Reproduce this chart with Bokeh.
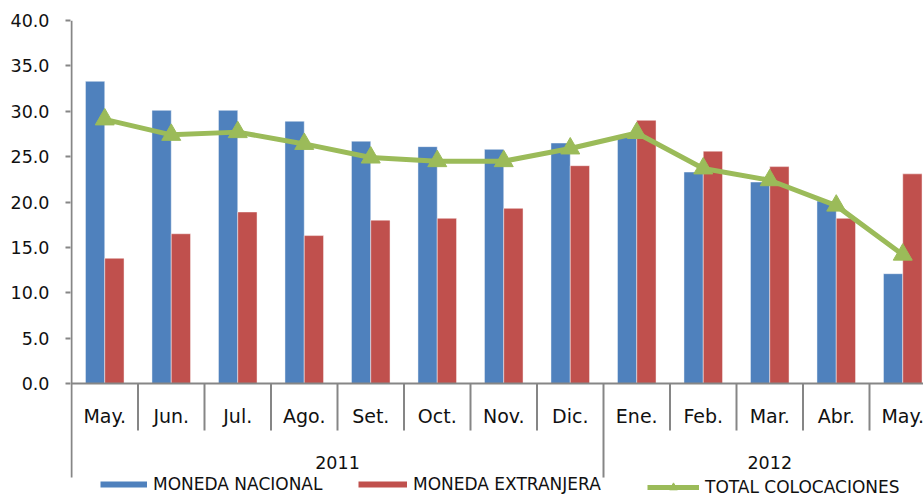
import numpy as np
from bokeh.plotting import figure
from bokeh.models import Range1d, FixedTicker, NumeralTickFormatter, ColumnDataSource, Legend, LegendItem
from bokeh.core.properties import value
from bokeh.embed import file_html
from bokeh.resources import INLINE

# ---- data ----
months = ["May.", "Jun.", "Jul.", "Ago.", "Set.", "Oct.", "Nov.", "Dic.",
          "Ene.", "Feb.", "Mar.", "Abr.", "May."]
years = ["2011", "2012"]
year_counts = [8, 5]
nacional = [33.3, 30.1, 30.1, 28.9, 26.7, 26.1, 25.8, 26.5, 27.2, 23.3, 22.2, 20.1, 12.1]
extranjera = [13.8, 16.5, 18.9, 16.3, 18.0, 18.2, 19.3, 24.0, 29.0, 25.6, 23.9, 18.2, 23.1]
total = [29.1, 27.4, 27.7, 26.4, 24.9, 24.5, 24.5, 25.9, 27.6, 23.7, 22.4, 19.6, 14.2]
y_ticks = [0, 5, 10, 15, 20, 25, 30, 35, 40]
series_names = ["MONEDA NACIONAL", "MONEDA EXTRANJERA", "TOTAL COLOCACIONES"]

# ---- styling / layout ----
BLUE = "#4F81BD"
RED = "#C0504D"
GREEN = "#9BBB59"
AXIS = "#868686"
FONT = "DejaVu Sans"
TXT = "#111111"

n = len(months)
xc = np.arange(n) + 0.5
bar_w = 0.29
off = 0.145
month_sep_depth = -5.18
year_sep_depth = -10.36
month_label_y = -3.53
year_label_y = -8.67

src = ColumnDataSource(dict(
    x_nac=xc - off, x_ext=xc + off, x=xc,
    nac=nacional, ext=extranjera, tot=total, month=months))

p = figure(width=923, height=497,
           x_range=Range1d(-0.015, 12.812), y_range=Range1d(-12.56, max(y_ticks)),
           output_backend="svg", toolbar_location=None, x_axis_location=None,
           min_border_left=70, min_border_right=0, min_border_top=20, min_border_bottom=0)
p.xgrid.visible = False
p.ygrid.visible = False
p.outline_line_color = None
p.background_fill_color = "white"
p.border_fill_color = "white"

ya = p.yaxis[0]
ya.ticker = FixedTicker(ticks=y_ticks)
ya.formatter = NumeralTickFormatter(format="0.0")
ya.axis_line_color = None
ya.major_tick_line_color = AXIS
ya.major_tick_line_width = 2
ya.major_tick_out = 5
ya.major_tick_in = 0
ya.minor_tick_line_color = None
ya.major_label_standoff = 16
ya.major_label_text_font = FONT
ya.major_label_text_font_size = "17.5px"
ya.major_label_text_color = TXT

# bars
r_nac = p.vbar(x="x_nac", top="nac", bottom=0, width=bar_w, source=src,
               fill_color=BLUE, line_color="white", line_alpha=0.45, line_width=1)
r_ext = p.vbar(x="x_ext", top="ext", bottom=0, width=bar_w, source=src,
               fill_color=RED, line_color="white", line_alpha=0.45, line_width=1)

# total line
r_line = p.line(x="x", y="tot", source=src, line_color=GREEN, line_width=5)
r_mark = p.scatter(x="x", y="tot", source=src, marker="triangle", size=19,
                   fill_color=GREEN, line_color=GREEN, line_width=1)

# axis lines & category separators
p.segment(x0=[0], y0=[max(y_ticks)], x1=[0], y1=[year_sep_depth], line_color=AXIS, line_width=2)
p.segment(x0=[0], y0=[0], x1=[n + 1], y1=[0], line_color=AXIS, line_width=2)
sep_x = [i for i in range(1, n + 1)]
year_bounds = list(np.cumsum(year_counts))
month_only = [s for s in sep_x if s not in year_bounds]
p.segment(x0=month_only, y0=[0] * len(month_only), x1=month_only,
          y1=[month_sep_depth] * len(month_only), line_color=AXIS, line_width=2)
p.segment(x0=year_bounds, y0=[0] * len(year_bounds), x1=year_bounds,
          y1=[year_sep_depth] * len(year_bounds), line_color=AXIS, line_width=2)

# category labels
p.text(x="x", y=month_label_y, text="month", source=src, text_align="center",
       text_baseline="middle", text_font=value(FONT), text_font_size="19px", text_color=TXT)
starts = np.concatenate([[0], np.cumsum(year_counts)[:-1]])
year_cx = [s + c / 2 for s, c in zip(starts, year_counts)]
p.text(x=year_cx, y=[year_label_y] * len(years), text=years, text_align="center",
       text_baseline="middle", text_font=value(FONT), text_font_size="17.5px", text_color=TXT)

# legend proxies (no visible marks)
px_nac = p.line(x=[np.nan, np.nan], y=[np.nan, np.nan], line_color=BLUE, line_width=6)
px_ext = p.line(x=[np.nan, np.nan], y=[np.nan, np.nan], line_color=RED, line_width=6)


def mk_legend(label, renderers, loc, gw, gh):
    lg = Legend(items=[LegendItem(label=label, renderers=renderers)], location=loc,
                orientation="horizontal", padding=0, margin=0, spacing=0,
                border_line_color=None, background_fill_alpha=0,
                glyph_width=gw, glyph_height=gh, label_height=gh, label_standoff=6,
                label_text_font=FONT, label_text_font_size="17px", label_text_color=TXT)
    p.add_layout(lg)


mk_legend(series_names[0], [px_nac], (30, 3), 47, 14)
mk_legend(series_names[1], [px_ext], (288, 3), 49, 14)
mk_legend(series_names[2], [r_line, r_mark], (577, 0), 52, 20)

open("out.html", "w").write(file_html(p, INLINE))
